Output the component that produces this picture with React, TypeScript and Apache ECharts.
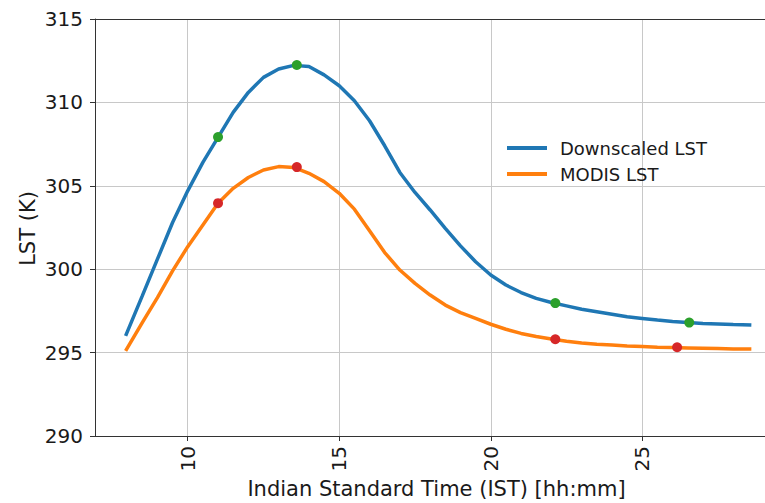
import React, { useEffect, useRef } from "react";
import * as echarts from "echarts";

const hours = [7.95, 8.5, 9, 9.5, 10, 10.5, 11, 11.5, 12, 12.5, 13, 13.5, 14, 14.5, 15, 15.5, 16, 16.5, 17, 17.5, 18, 18.5, 19, 19.5, 20, 20.5, 21, 21.5, 22, 22.5, 23, 23.5, 24, 24.5, 25, 25.5, 26, 26.5, 27, 27.5, 28, 28.6];
const downscaledLST = [296.0, 298.4, 300.6, 302.8, 304.7, 306.4, 307.9, 309.4, 310.6, 311.5, 312.0, 312.22, 312.15, 311.65, 311.0, 310.1, 308.9, 307.4, 305.8, 304.6, 303.55, 302.45, 301.4, 300.45, 299.65, 299.05, 298.6, 298.25, 298.0, 297.8, 297.6, 297.45, 297.3, 297.15, 297.05, 296.95, 296.87, 296.8, 296.75, 296.72, 296.68, 296.65];
const modisLST = [295.1, 296.8, 298.3, 299.9, 301.35, 302.65, 303.95, 304.85, 305.5, 305.95, 306.15, 306.1, 305.75, 305.25, 304.55, 303.6, 302.3, 301.0, 299.95, 299.15, 298.45, 297.85, 297.4, 297.05, 296.7, 296.4, 296.15, 295.97, 295.82, 295.68, 295.58, 295.5, 295.45, 295.4, 295.36, 295.32, 295.3, 295.28, 295.26, 295.24, 295.22, 295.21];

const greenPoints = [[11.0, 307.92], [13.6, 312.24], [22.13, 297.97], [26.55, 296.8]];
const redPoints = [[11.0, 303.96], [13.6, 306.12], [22.13, 295.8], [26.15, 295.32]];

const xTicks = [10, 15, 20, 25];
const yTicks = [290, 295, 300, 305, 310, 315];

const FONT = "DejaVu Sans";

export default function App() {
  const ref = useRef<HTMLDivElement>(null);
  useEffect(() => {
    if (!ref.current) return;
    const chart = echarts.init(ref.current, null, { renderer: "svg" });
    const zip = (xs: number[], ys: number[]) => xs.map((x, i) => [x, ys[i]]);
    chart.setOption({
      animation: false,
      backgroundColor: "#ffffff",
      textStyle: { fontFamily: FONT },
      grid: { left: 95, top: 19, right: 0, bottom: 67, containLabel: false },
      legend: {
        data: ["Downscaled LST", "MODIS LST"],
        orient: "vertical",
        left: 507,
        top: 138,
        padding: 0,
        icon: "rect",
        itemWidth: 40,
        itemHeight: 4,
        itemGap: 6,
        textStyle: { fontFamily: FONT, fontSize: 18, color: "#1a1a1a", padding: [0, 0, 0, 8], lineHeight: 20 },
      },
      xAxis: [
        {
          type: "value",
          min: 6.94,
          max: 29.05,
          position: "bottom",
          axisLine: { show: true, lineStyle: { color: "#333", width: 1 } },
          axisTick: { show: true, length: 5, inside: false, customValues: xTicks, lineStyle: { color: "#333" } },
          axisLabel: { customValues: xTicks, rotate: 90, margin: 10, fontSize: 20, color: "#1a1a1a", fontFamily: FONT },
          splitLine: { show: true, lineStyle: { color: "#c8c8c8", width: 1 } },
        },
        {
          type: "value",
          min: 6.94,
          max: 29.05,
          position: "top",
          axisLine: { show: true, lineStyle: { color: "#333", width: 1 } },
          axisTick: { show: false },
          axisLabel: { show: false },
          splitLine: { show: false },
        },
      ],
      yAxis: {
        type: "value",
        min: yTicks[0],
        max: yTicks[yTicks.length - 1],
        interval: 5,
        axisLine: { show: true, lineStyle: { color: "#333", width: 1 } },
        axisTick: { show: true, length: 5, lineStyle: { color: "#333" } },
        axisLabel: { margin: 12, fontSize: 20, color: "#1a1a1a", fontFamily: FONT },
        splitLine: { show: true, lineStyle: { color: "#c8c8c8", width: 1 } },
      },
      graphic: [
        {
          type: "text",
          x: 436.5,
          y: 489,
          style: { text: "Indian Standard Time (IST) [hh:mm]", font: `21px "${FONT}"`, fill: "#1a1a1a", textAlign: "center", textVerticalAlign: "middle" },
        },
        {
          type: "text",
          x: 27.5,
          y: 228.5,
          rotation: Math.PI / 2,
          style: { text: "LST (K)", font: `21px "${FONT}"`, fill: "#1a1a1a", textAlign: "center", textVerticalAlign: "middle" },
        },
      ],
      series: [
        {
          name: "Downscaled LST",
          type: "line",
          data: zip(hours, downscaledLST),
          symbol: "none",
          lineStyle: { color: "#1f77b4", width: 3.5 },
          itemStyle: { color: "#1f77b4" },
          z: 2,
        },
        {
          name: "MODIS LST",
          type: "line",
          data: zip(hours, modisLST),
          symbol: "none",
          lineStyle: { color: "#ff7f0e", width: 3.5 },
          itemStyle: { color: "#ff7f0e" },
          z: 2,
        },
        {
          name: "green",
          type: "scatter",
          data: greenPoints,
          symbolSize: 10,
          itemStyle: { color: "#2ca02c", opacity: 1 },
          z: 5,
        },
        {
          name: "red",
          type: "scatter",
          data: redPoints,
          symbolSize: 10,
          itemStyle: { color: "#d62728", opacity: 1 },
          z: 5,
        },
      ],
    });
    return () => chart.dispose();
  }, []);
  return <div ref={ref} style={{ width: 765, height: 503, position: "absolute", left: 0, top: 0 }} />;
}
